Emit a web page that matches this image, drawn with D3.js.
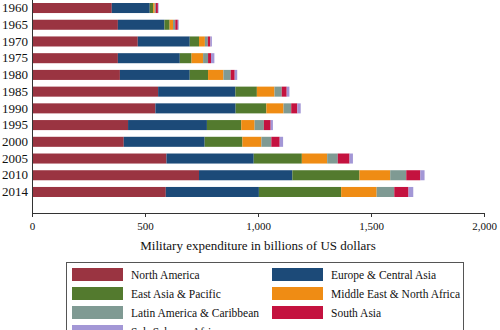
<!DOCTYPE html>
<html>
<head>
<meta charset="utf-8">
<script src="https://cdn.jsdelivr.net/npm/d3@7"></script>
<style>
  html, body { margin: 0; padding: 0; background: #fff; }
  svg { display: block; font-family: "Liberation Serif", "DejaVu Serif", serif; }
</style>
</head>
<body>
<svg class="chart" width="500" height="330"></svg>
<script>
// years on the category axis
const years = ["1960", "1965", "1970", "1975", "1980", "1985", "1990", "1995", "2000", "2005", "2010", "2014"];

// spending per region, billions of US dollars
const northAmerica = [353, 380, 468, 380, 389, 558, 546, 425, 406, 595, 739, 592];
const europeCentralAsia = [168, 206, 230, 274, 309, 342, 355, 349, 358, 386, 413, 412];
const eastAsiaPacific = [15, 23, 41, 52, 81, 95, 136, 152, 167, 213, 297, 364];
const middleEastNorthAfrica = [7, 15, 26, 51, 68, 78, 76, 59, 84, 112, 136, 157];
const latinAmerica = [5, 10, 13, 22, 32, 32, 34, 41, 44, 47, 71, 78];
const southAsia = [9, 11, 11, 13, 18, 22, 27, 30, 37, 52, 62, 63];
const subSaharanAfrica = [3, 4, 7, 15, 11, 12, 15, 10, 15, 15, 19, 21];

const regions = [
  "North America", "Europe & Central Asia", "East Asia & Pacific",
  "Middle East & North Africa", "Latin America & Caribbean", "South Asia",
  "Sub-Saharan Africa"
];
const xTicks = [0, 500, 1000, 1500, 2000];

const colors = ["#9a3441", "#1c4a78", "#537a2e", "#ef8c14", "#7f9a93", "#c4123f", "#a397d6"];

const series = [northAmerica, europeCentralAsia, eastAsiaPacific, middleEastNorthAfrica,
  latinAmerica, southAsia, subSaharanAfrica];

const rows = years.map((yr, i) => {
  const row = { year: yr };
  regions.forEach((r, j) => { row[r] = series[j][i]; });
  return row;
});

const svg = d3.select(".chart");

const x = d3.scaleLinear().domain([0, 2000]).range([32, 484]);
const y = d3.scaleBand().domain(years).range([0, 200])
  .paddingInner(0.4).paddingOuter(0.18);

const stacked = d3.stack().keys(regions)(rows);

const color = d3.scaleOrdinal().domain(regions).range(colors);

svg.append("g")
  .selectAll("g")
  .data(stacked)
  .join("g")
  .attr("fill", d => color(d.key))
  .selectAll("rect")
  .data(d => d)
  .join("rect")
  .attr("x", d => x(d[0]))
  .attr("y", d => y(d.data.year))
  .attr("width", d => x(d[1]) - x(d[0]))
  .attr("height", y.bandwidth());

// category axis: line only, labels on the left
const yAxis = svg.append("g")
  .attr("transform", "translate(32,0)")
  .call(d3.axisLeft(y).tickSize(0).tickPadding(4));
yAxis.select(".domain").attr("d", "M0.5,0V213").attr("stroke", "#333");
yAxis.selectAll("text")
  .attr("font-size", 13)
  .attr("fill", "#111")
  .attr("font-family", "Liberation Serif, serif");

const xAxis = svg.append("g")
  .attr("transform", "translate(0,213)")
  .call(d3.axisBottom(x).tickValues(xTicks).tickFormat(d3.format(",")).tickSize(4).tickPadding(5));
xAxis.select(".domain").attr("d", "M32,0.5H484").attr("stroke", "#333");
xAxis.selectAll(".tick line").attr("stroke", "#333");
xAxis.selectAll("text")
  .attr("font-size", 11)
  .attr("fill", "#111")
  .attr("font-family", "Liberation Serif, serif");

svg.append("text")
  .attr("x", 258)
  .attr("y", 250)
  .attr("text-anchor", "middle")
  .attr("font-size", 13)
  .attr("fill", "#111")
  .text("Military expenditure in billions of US dollars");

// legend, two columns
const legend = svg.append("g");
legend.append("rect")
  .attr("x", 66.5).attr("y", 262.5)
  .attr("width", 397).attr("height", 90)
  .attr("fill", "#fff")
  .attr("stroke", "#555");

const item = legend.selectAll("g.item")
  .data(regions)
  .join("g")
  .attr("class", "item")
  .attr("transform", (d, i) => `translate(${i % 2 ? 272 : 72},${268 + Math.floor(i / 2) * 19})`);

item.append("rect")
  .attr("width", 51)
  .attr("height", 13)
  .attr("fill", d => color(d));

item.append("text")
  .attr("x", 59)
  .attr("y", 10.5)
  .attr("font-size", 11.5)
  .attr("fill", "#111")
  .text(d => d);
</script>
</body>
</html>
